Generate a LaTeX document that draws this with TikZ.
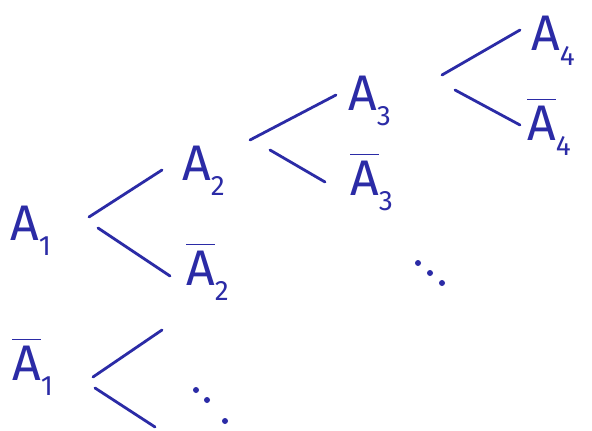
\documentclass[tikz,border=0pt]{standalone}
\usepackage{fontspec}
\setmainfont{Fira Sans}
\definecolor{ink}{HTML}{2B2BA6}
\tikzset{
  lbl/.style={text=ink,anchor=base west,inner sep=0pt,font=\fontsize{50}{52}\selectfont},
  br/.style={draw=ink,line width=2.8pt,line cap=round},
  dot/.style={fill=ink,circle,inner sep=0pt,minimum size=6pt}
}
\newcommand{\Ab}[1]{$\overline{\mbox{A}\vphantom{\rule{0pt}{0.78em}}}$\raisebox{-0.3em}{\fontsize{28}{30}\selectfont #1}}
\newcommand{\An}[1]{A\raisebox{-0.3em}{\fontsize{28}{30}\selectfont #1}}
\begin{document}
\begin{tikzpicture}[x=1pt,y=-1pt]
\useasboundingbox (0,0) rectangle (592,431);
\fill[white] (0,0) rectangle (592,431);
% labels
\node[lbl] (a1) at (10,240) {\An{1}};
\node[lbl] (b1) at (12,380) {\Ab{1}};
\node[lbl] (a2) at (182,180) {\An{2}};
\node[lbl] (b2) at (186,285) {\Ab{2}};
\node[lbl] (a3) at (348,110) {\An{3}};
\node[lbl] (b3) at (350,195) {\Ab{3}};
\node[lbl] (a4) at (531,50) {\An{4}};
\node[lbl] (b4) at (527,140) {\Ab{4}};
% branch endpoints
\coordinate (a1u0) at (89,217); \coordinate (a1u1) at (162,170);
\coordinate (a1d0) at (98,228); \coordinate (a1d1) at (170,276);
\coordinate (a2u0) at (250,140); \coordinate (a2u1) at (336,95);
\coordinate (a2d0) at (270,150); \coordinate (a2d1) at (325,182);
\coordinate (a3u0) at (442,75); \coordinate (a3u1) at (520,30);
\coordinate (a3d0) at (455,90); \coordinate (a3d1) at (520,125);
\coordinate (b1u0) at (93,377); \coordinate (b1u1) at (162,330);
\coordinate (b1d0) at (95,388); \coordinate (b1d1) at (155,427);
\draw[br] (a1u0) -- (a1u1);
\draw[br] (a1d0) -- (a1d1);
\draw[br] (a2u0) -- (a2u1);
\draw[br] (a2d0) -- (a2d1);
\draw[br] (a3u0) -- (a3u1);
\draw[br] (a3d0) -- (a3d1);
\draw[br] (b1u0) -- (b1u1);
\draw[br] (b1d0) -- (b1d1);
% dots
\node[dot] (d1) at (418,263) {};
\node[dot] (d2) at (430,273) {};
\node[dot] (d3) at (442,283) {};
\node[dot] (e1) at (196,390) {};
\node[dot] (e2) at (207,400) {};
\node[dot] (e3) at (225,421) {};
\end{tikzpicture}
\end{document}
